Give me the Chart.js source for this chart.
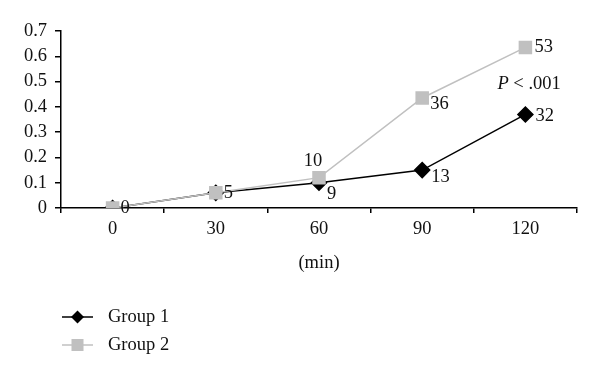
<!DOCTYPE html>
<html><head><meta charset="utf-8">
<script src="https://cdn.jsdelivr.net/npm/chart.js@4.4.1/dist/chart.umd.min.js"></script>
<style>html,body{margin:0;padding:0;background:#fff;}#wrap{width:600px;height:379px;}</style>
</head><body><div id="wrap"><canvas id="c" width="600" height="379"></canvas></div>
<script>
const categories = ['0', '30', '60', '90', '120'];
const group1 = [0, 0.06, 0.10, 0.15, 0.37];
const group2 = [0, 0.06, 0.12, 0.435, 0.635];
const group1Labels = [null, null, '9', '13', '32'];
const group2Labels = ['0', '5', '10', '36', '53'];
const yTicks = [0, 0.1, 0.2, 0.3, 0.4, 0.5, 0.6, 0.7];
const seriesNames = ['Group 1', 'Group 2'];
const xTitle = '(min)';

const FONT = '"Liberation Serif", "DejaVu Serif", serif';
const FS = 18.5;
const GREY = '#c0c0c0';
// label offsets [dx, dy, align]
const off1 = [null, null, [8, 11, 'left'], [9, 7, 'left'], [10, 2, 'left']];
const off2 = [[8, 0, 'left'], [8, 0, 'left'], [-6, -17, 'center'], [8, 6, 'left'], [9, 0, 'left']];

const labelPlugin = {
  id: 'labels',
  afterDatasetsDraw(chart) {
    const ctx = chart.ctx;
    ctx.save();
    ctx.font = FS + 'px ' + FONT;
    ctx.fillStyle = '#111';
    ctx.textBaseline = 'middle';
    const sets = [[0, group1Labels, off1], [1, group2Labels, off2]];
    sets.forEach(([di, labs, offs]) => {
      const meta = chart.getDatasetMeta(di);
      labs.forEach((t, i) => {
        if (t === null) return;
        const p = meta.data[i];
        const o = offs[i];
        ctx.textAlign = o[2];
        ctx.fillText(t, p.x + o[0], p.y + o[1]);
      });
    });
    // P value annotation
    const xs = chart.scales.x, ys = chart.scales.y;
    const px = xs.getPixelForValue(4) - 28, py = ys.getPixelForValue(0.49);
    ctx.textAlign = 'left';
    ctx.font = 'italic ' + FS + 'px ' + FONT;
    ctx.fillText('P', px, py);
    const w = ctx.measureText('P ').width;
    ctx.font = FS + 'px ' + FONT;
    ctx.fillText('< .001', px + w, py);
    // legend
    const items = [
      {name: seriesNames[0], color: '#000', style: 'diamond'},
      {name: seriesNames[1], color: GREY, style: 'square'}
    ];
    items.forEach((it, k) => {
      const y = 317 + k * 28;
      ctx.strokeStyle = it.color;
      ctx.lineWidth = 1.5;
      ctx.beginPath(); ctx.moveTo(62, y); ctx.lineTo(93, y); ctx.stroke();
      ctx.fillStyle = it.color;
      const cx = 77.5;
      if (it.style === 'diamond') {
        ctx.beginPath(); ctx.moveTo(cx, y - 6.5); ctx.lineTo(cx + 6.5, y); ctx.lineTo(cx, y + 6.5); ctx.lineTo(cx - 6.5, y); ctx.closePath(); ctx.fill();
      } else {
        ctx.fillRect(cx - 6, y - 6, 12, 12);
      }
      ctx.fillStyle = '#111';
      ctx.textAlign = 'left';
      ctx.fillText(it.name, 108, y);
    });
    ctx.restore();
  }
};

new Chart(document.getElementById('c'), {
  type: 'line',
  data: {
    labels: categories,
    datasets: [
      {label: seriesNames[0], data: group1, borderColor: '#000', backgroundColor: '#000', borderWidth: 1.5, order: 1,
       pointStyle: 'rectRot', pointRadius: 7.5, pointHoverRadius: 7.5, tension: 0},
      {label: seriesNames[1], data: group2, borderColor: GREY, backgroundColor: GREY, borderWidth: 1.5, order: 0,
       pointStyle: 'rect', pointRadius: 8.5, pointHoverRadius: 8.5, tension: 0}
    ]
  },
  options: {
    responsive: false, animation: false,
    layout: {padding: {left: 0, right: 23, top: 31, bottom: 105}},
    plugins: {legend: {display: false}, tooltip: {enabled: false}},
    scales: {
      x: {
        offset: true,
        grid: {offset: true, drawOnChartArea: false, drawTicks: true, tickLength: 5, color: '#000', lineWidth: 1.5},
        border: {color: '#000', width: 1.5},
        ticks: {color: '#111', font: {family: FONT, size: FS}, padding: 5},
        title: {display: true, text: xTitle, color: '#111', font: {family: FONT, size: FS}, padding: {top: 2, bottom: 0}},
        afterFit(s) { s.height = 66; }
      },
      y: {
        min: 0, max: 0.7,
        afterBuildTicks(s) { s.ticks = yTicks.map(v => ({value: v})); },
        grid: {drawOnChartArea: false, drawTicks: true, tickLength: 6, color: '#000', lineWidth: 1.5},
        border: {color: '#000', width: 1.5},
        ticks: {color: '#111', font: {family: FONT, size: FS}, padding: 8,
          callback: v => String(Math.round(v * 10) / 10)},
        afterFit(s) { s.width = 61; }
      }
    }
  },
  plugins: [labelPlugin]
});
</script></body></html>
